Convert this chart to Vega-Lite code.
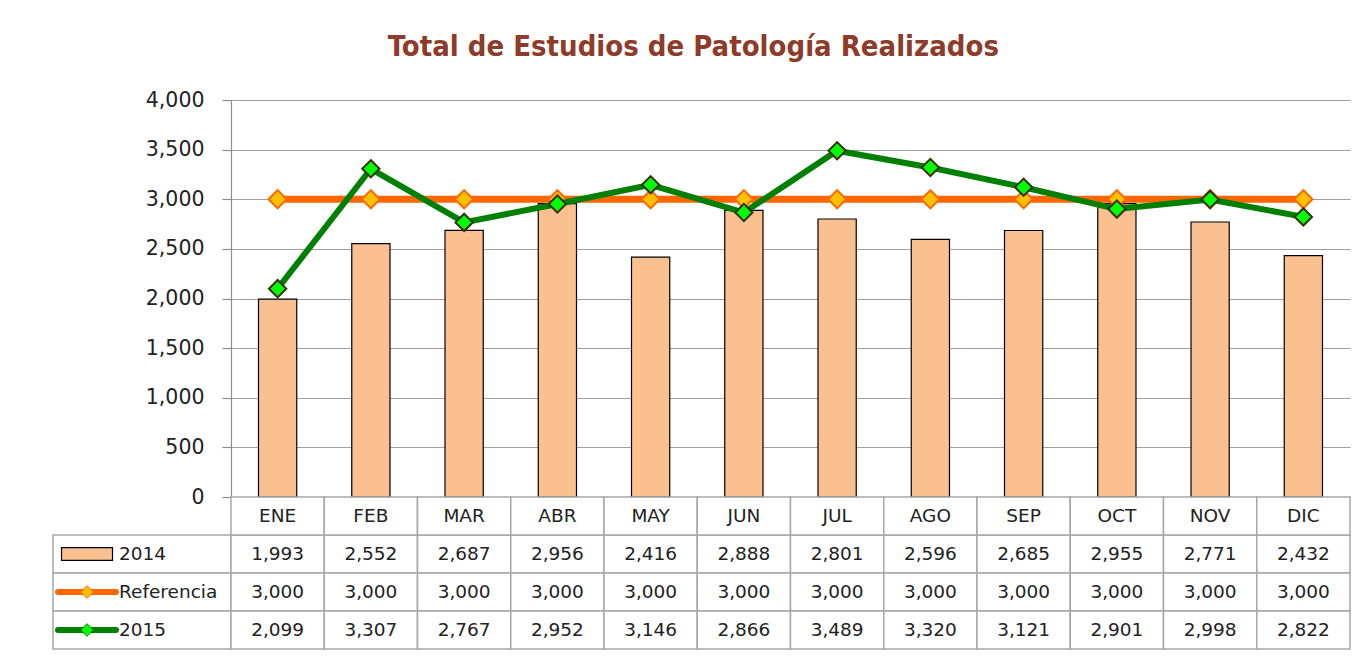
{
  "$schema": "https://vega.github.io/schema/vega-lite/v6.json",
  "background": "white",
  "padding": {"left": 46, "top": 33, "right": 16, "bottom": 10},
  "title": {
    "text": "Total de Estudios de Patología Realizados",
    "font": "DejaVu Sans Condensed",
    "fontWeight": "bold",
    "fontSize": 29,
    "color": "#8E3B2A",
    "anchor": "middle",
    "offset": 28,
    "dx": -5
  },
  "datasets": {
    "valores": [
      {"mes": "ENE", "serie": "2014", "valor": 1993},
      {"mes": "FEB", "serie": "2014", "valor": 2552},
      {"mes": "MAR", "serie": "2014", "valor": 2687},
      {"mes": "ABR", "serie": "2014", "valor": 2956},
      {"mes": "MAY", "serie": "2014", "valor": 2416},
      {"mes": "JUN", "serie": "2014", "valor": 2888},
      {"mes": "JUL", "serie": "2014", "valor": 2801},
      {"mes": "AGO", "serie": "2014", "valor": 2596},
      {"mes": "SEP", "serie": "2014", "valor": 2685},
      {"mes": "OCT", "serie": "2014", "valor": 2955},
      {"mes": "NOV", "serie": "2014", "valor": 2771},
      {"mes": "DIC", "serie": "2014", "valor": 2432},
      {"mes": "ENE", "serie": "Referencia", "valor": 3000},
      {"mes": "FEB", "serie": "Referencia", "valor": 3000},
      {"mes": "MAR", "serie": "Referencia", "valor": 3000},
      {"mes": "ABR", "serie": "Referencia", "valor": 3000},
      {"mes": "MAY", "serie": "Referencia", "valor": 3000},
      {"mes": "JUN", "serie": "Referencia", "valor": 3000},
      {"mes": "JUL", "serie": "Referencia", "valor": 3000},
      {"mes": "AGO", "serie": "Referencia", "valor": 3000},
      {"mes": "SEP", "serie": "Referencia", "valor": 3000},
      {"mes": "OCT", "serie": "Referencia", "valor": 3000},
      {"mes": "NOV", "serie": "Referencia", "valor": 3000},
      {"mes": "DIC", "serie": "Referencia", "valor": 3000},
      {"mes": "ENE", "serie": "2015", "valor": 2099},
      {"mes": "FEB", "serie": "2015", "valor": 3307},
      {"mes": "MAR", "serie": "2015", "valor": 2767},
      {"mes": "ABR", "serie": "2015", "valor": 2952},
      {"mes": "MAY", "serie": "2015", "valor": 3146},
      {"mes": "JUN", "serie": "2015", "valor": 2866},
      {"mes": "JUL", "serie": "2015", "valor": 3489},
      {"mes": "AGO", "serie": "2015", "valor": 3320},
      {"mes": "SEP", "serie": "2015", "valor": 3121},
      {"mes": "OCT", "serie": "2015", "valor": 2901},
      {"mes": "NOV", "serie": "2015", "valor": 2998},
      {"mes": "DIC", "serie": "2015", "valor": 2822}
    ]
  },
  "columns": 2,
  "spacing": 0,
  "bounds": "flush",
  "resolve": {"scale": {"x": "independent", "y": "independent"}},
  "concat": [
    {
      "width": 178,
      "height": 397,
      "data": {"values": [{"v": 0}]},
      "mark": {"type": "point", "opacity": 0},
      "encoding": {}
    },
    {
      "width": 1119,
      "height": 397,
      "data": {"name": "valores"},
      "encoding": {
        "x": {
          "field": "mes",
          "type": "nominal",
          "sort": ["ENE", "FEB", "MAR", "ABR", "MAY", "JUN", "JUL", "AGO", "SEP", "OCT", "NOV", "DIC"],
          "scale": {"type": "band", "paddingInner": 0, "paddingOuter": 0},
          "axis": null
        },
        "y": {
          "field": "valor",
          "type": "quantitative",
          "scale": {"domain": [0, 4000], "nice": false},
          "axis": {
            "values": [0, 500, 1000, 1500, 2000, 2500, 3000, 3500, 4000],
            "format": ",d",
            "title": null,
            "grid": true,
            "gridColor": "#A0A0A0",
            "gridWidth": 1.2,
            "domainColor": "#8C8C8C",
            "domainWidth": 1.2,
            "tickColor": "#8C8C8C",
            "tickSize": 9,
            "tickWidth": 1.2,
            "labelPadding": 18,
            "labelFont": "DejaVu Sans",
            "labelFontSize": 20.5,
            "labelColor": "#222222"
          }
        }
      },
      "layer": [
        {
          "transform": [{"filter": "datum.serie == '2014'"}],
          "mark": {"type": "bar", "width": {"band": 0.41}, "fill": "#FAC090", "stroke": "#000000", "strokeWidth": 1.2}
        },
        {
          "transform": [{"filter": "datum.serie == 'Referencia'"}],
          "mark": {"type": "line", "stroke": "#FF6600", "strokeWidth": 7}
        },
        {
          "transform": [{"filter": "datum.serie == 'Referencia'"}],
          "mark": {"type": "point", "shape": "diamond", "size": 330, "filled": true, "fill": "#FFC000", "stroke": "#FF6600", "strokeWidth": 2, "opacity": 1}
        },
        {
          "transform": [{"filter": "datum.serie == '2015'"}],
          "mark": {"type": "line", "stroke": "#008000", "strokeWidth": 6}
        },
        {
          "transform": [{"filter": "datum.serie == '2015'"}],
          "mark": {"type": "point", "shape": "diamond", "size": 300, "filled": true, "fill": "#00FF00", "stroke": "#3A2E05", "strokeWidth": 2, "opacity": 1}
        }
      ]
    },
    {
      "width": 178,
      "height": 152,
      "data": {"name": "valores"},
      "transform": [{"filter": "datum.mes == 'ENE'"}],
      "encoding": {
        "y": {
          "field": "serie",
          "type": "nominal",
          "scale": {"type": "band", "domain": ["mes", "2014", "Referencia", "2015"], "paddingInner": 0, "paddingOuter": 0},
          "axis": null
        }
      },
      "layer": [
        {
          "mark": {"type": "rect", "fill": "white", "stroke": "#A6A6A6", "strokeWidth": 1.5},
          "encoding": {"x": {"value": 0}, "x2": {"value": "width"}}
        },
        {
          "transform": [{"filter": "datum.serie == '2014'"}],
          "mark": {"type": "point", "shape": "M-1,-0.25H1V0.25H-1Z", "size": 2601, "filled": true, "fill": "#FAC090", "stroke": "#000000", "strokeWidth": 1.2, "opacity": 1},
          "encoding": {
            "x": {"datum": "símbolo", "type": "nominal", "scale": {"type": "band", "domain": ["símbolo", "etiqueta"], "paddingInner": 0, "paddingOuter": 0.39, "align": 0.04}, "axis": null}
          }
        },
        {
          "transform": [{"filter": "datum.serie != '2014'"}],
          "mark": {"type": "point", "shape": "M-1,0H1", "size": 3364, "filled": false, "strokeWidth": 6, "strokeCap": "round", "opacity": 1},
          "encoding": {
            "x": {"datum": "símbolo", "type": "nominal"},
            "stroke": {"field": "serie", "type": "nominal", "scale": {"domain": ["Referencia", "2015"], "range": ["#FF6600", "#008000"]}, "legend": null}
          }
        },
        {
          "transform": [{"filter": "datum.serie != '2014'"}],
          "mark": {"type": "point", "shape": "diamond", "size": 160, "filled": true, "strokeWidth": 1, "opacity": 1},
          "encoding": {
            "x": {"datum": "símbolo", "type": "nominal"},
            "fill": {"field": "serie", "type": "nominal", "scale": {"domain": ["Referencia", "2015"], "range": ["#FFC000", "#00FF00"]}, "legend": null},
            "stroke": {"field": "serie", "type": "nominal", "legend": null}
          }
        },
        {
          "mark": {"type": "text", "align": "left", "baseline": "middle", "font": "DejaVu Sans", "fontSize": 18.5, "color": "#222222"},
          "encoding": {
            "x": {"datum": "etiqueta", "type": "nominal", "bandPosition": 0},
            "text": {"field": "serie", "type": "nominal"}
          }
        }
      ]
    },
    {
      "width": 1119,
      "height": 152,
      "data": {"name": "valores"},
      "encoding": {
        "x": {
          "field": "mes",
          "type": "nominal",
          "sort": ["ENE", "FEB", "MAR", "ABR", "MAY", "JUN", "JUL", "AGO", "SEP", "OCT", "NOV", "DIC"],
          "scale": {"type": "band", "paddingInner": 0, "paddingOuter": 0},
          "axis": null
        }
      },
      "layer": [
        {
          "mark": {"type": "rect", "fill": "white", "stroke": "#A6A6A6", "strokeWidth": 1.5},
          "encoding": {
            "y": {"field": "serie", "type": "nominal", "scale": {"type": "band", "domain": ["mes", "2014", "Referencia", "2015"], "paddingInner": 0, "paddingOuter": 0}, "axis": null}
          }
        },
        {
          "transform": [{"filter": "datum.serie == '2014'"}],
          "mark": {"type": "rect", "fill": "white", "stroke": "#A6A6A6", "strokeWidth": 1.5},
          "encoding": {"y": {"datum": "mes", "type": "nominal"}}
        },
        {
          "mark": {"type": "text", "baseline": "middle", "font": "DejaVu Sans", "fontSize": 18.5, "color": "#222222"},
          "encoding": {
            "y": {"field": "serie", "type": "nominal"},
            "text": {"field": "valor", "type": "quantitative", "format": ",d"}
          }
        },
        {
          "transform": [{"filter": "datum.serie == '2014'"}],
          "mark": {"type": "text", "baseline": "middle", "font": "DejaVu Sans", "fontSize": 18.5, "color": "#222222"},
          "encoding": {
            "y": {"datum": "mes", "type": "nominal"},
            "text": {"field": "mes", "type": "nominal"}
          }
        }
      ]
    }
  ],
  "config": {
    "view": {"stroke": null}
  }
}
